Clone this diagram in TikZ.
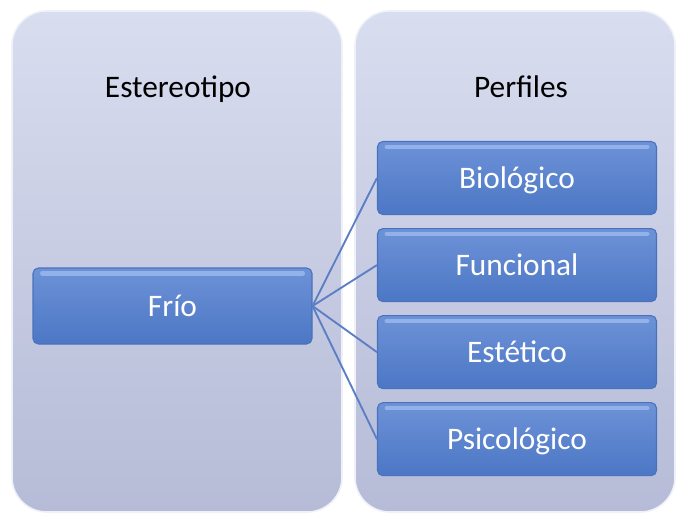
\documentclass[tikz,border=0pt]{standalone}
\usepackage{fontspec}
\setmainfont{Carlito}
\usetikzlibrary{positioning}
\definecolor{panelTop}{HTML}{D8DDEF}
\definecolor{panelBot}{HTML}{B6BBD7}
\definecolor{boxTop}{HTML}{6D92D7}
\definecolor{boxBot}{HTML}{4C77C5}
\definecolor{boxEdge}{HTML}{4A72BC}
\definecolor{boxGloss}{HTML}{92B2E9}
\definecolor{linkBlue}{HTML}{5B7EC4}
\tikzset{
    base/.style={font=\fontsize{23.5}{28}\selectfont, align=center, inner sep=0pt},
    panel/.style={draw=white!60!panelTop, line width=1.2pt, rounded corners=26pt, top color=panelTop, bottom color=panelBot},
    title/.style={base, text=black, anchor=base},
    block/.style={base, rectangle, rounded corners=4pt, draw=boxEdge, line width=0.8pt,
        top color=boxTop, bottom color=boxBot, text=white, text height=16pt, text depth=1pt,
        minimum width=209.25pt, minimum height=54.75pt,
        path picture={\draw [boxGloss, line width=3.5pt, line cap=round]
            ([xshift=7pt, yshift=-4pt]path picture bounding box.north west) --
            ([xshift=-7pt, yshift=-4pt]path picture bounding box.north east);}},
    link/.style={draw=linkBlue, line width=1.4pt}
}

\begin{document}
\begin{tikzpicture}[x=0.75pt, y=-0.75pt, node distance=9.75pt]
    \useasboundingbox (0,0) rectangle (676,514);
    % panels
    \draw [panel] (12,11) rectangle (342,512);
    \draw [panel] (355,11) rectangle (675,512);
    \node [title] (Stereo) at (178,97) {Estereotipo};
    \node [title] (Profiles) at (521,97) {Perfiles};

    \node [block, minimum height=57pt] (Frio) at (172.5,306) {Frío};
    \node [block] (Bio) at (517,178) {Biológico};
    \node [block, below=of Bio] (Func) {Funcional};
    \node [block, below=of Func] (Aest) {Estético};
    \node [block, below=of Aest] (Psy) {Psicológico};

    \foreach \p in {Bio, Func, Aest, Psy}
        \draw [link] (Frio.east) -- (\p.west);
\end{tikzpicture}
\end{document}
